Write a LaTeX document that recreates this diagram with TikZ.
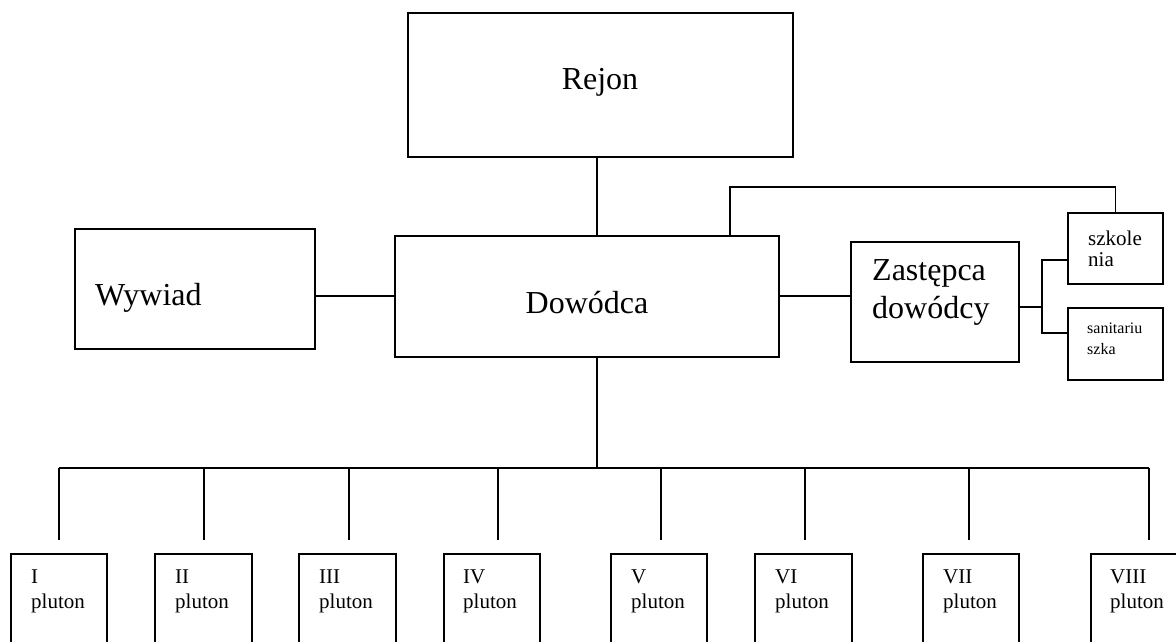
\documentclass[tikz,border=0pt]{standalone}
\usepackage{fontspec}
\setmainfont{Liberation Serif}
\begin{document}
\begin{tikzpicture}[x=1pt,y=-1pt,
  box/.style={draw, line width=1.6pt, inner sep=0pt, anchor=north west},
  conn/.style={line width=1.6pt},
  big/.style={font=\fontsize{32}{38}\selectfont, inner sep=0pt},
  mid/.style={font=\fontsize{21}{21}\selectfont, inner sep=0pt, anchor=base west},
  small/.style={font=\fontsize{16}{21}\selectfont, inner sep=0pt, anchor=base west},
  plut/.style={font=\fontsize{21}{25}\selectfont, inner sep=0pt, anchor=base west, align=left}]
\useasboundingbox (0,0) rectangle (1176,642);
\clip (0,0) rectangle (1176,642);
% boxes
\node[box, minimum width=385pt, minimum height=144pt] (rejon) at (407,12) {};
\node[box, minimum width=240pt, minimum height=120pt] (wywiad) at (74,228) {};
\node[box, minimum width=384pt, minimum height=121pt] (dow) at (394,235) {};
\node[box, minimum width=168pt, minimum height=120pt] (zast) at (850,241) {};
\node[box, minimum width=95pt, minimum height=71pt] (szk) at (1067,212) {};
\node[box, minimum width=95pt, minimum height=72pt] (san) at (1067,307) {};
\foreach \n/\x/\w in {p1/10/96, p2/154/97, p3/298/97, p4/443/96, p5/610/96, p6/754/97, p7/922/96, p8/1090/120}{
  \node[box, minimum width=\w pt, minimum height=120pt] (\n) at (\x,553) {};
}
% texts
\node[big, anchor=base] (trejon) at (600,89) {Rejon};
\node[big, anchor=base west] (twywiad) at (95,305) {Wywiad};
\node[big, anchor=base] (tdow) at (587,313) {Dowódca};
\node[big, anchor=base west] (tzast1) at (872,280) {Zastępca};
\node[big, anchor=base west] (tzast2) at (872,318) {dowódcy};
\node[mid] (tszk1) at (1088,245) {szkole};
\node[mid] (tszk2) at (1088,266) {nia};
\node[small] (tsan1) at (1087,333) {sanitariu};
\node[small] (tsan2) at (1087,354) {szka};
\foreach \n/\x/\r in {p1/31/I, p2/175/II, p3/319/III, p4/463/IV, p5/631/V, p6/775/VI, p7/943/VII, p8/1110/VIII}{
  \node[plut] (t\n a) at (\x,583) {\r};
  \node[plut] (t\n b) at (\x,608) {pluton};
}
% connectors
\coordinate (vx) at (597,468);
\draw[conn] (vx |- rejon.south) -- (vx |- dow.north);
\draw[conn] (wywiad.east |- 0,296) -- (dow.west |- 0,296);
\draw[conn] (dow.east |- 0,296) -- (zast.west |- 0,296);
\coordinate (top) at (730,187);
\draw[conn] (top |- dow.north) -- (top) -| (szk.north);
\coordinate (bj) at (1042,307);
\draw[conn] (zast.east |- bj) -- (bj);
\draw[conn] (szk.west |- 0,260) -| (bj) |- (san.west |- 0,333);
\draw[conn] (vx |- dow.south) -- (vx);
\coordinate (busL) at (59,468);
\coordinate (busR) at (1149,468);
\draw[conn] (busL) -- (busR);
\foreach \x [count=\i] in {59,204,349,498,661,805,969,1149}{
  \coordinate (d\i) at (\x,540);
  \draw[conn] (d\i |- vx) -- (d\i);
}
\end{tikzpicture}
\end{document}
